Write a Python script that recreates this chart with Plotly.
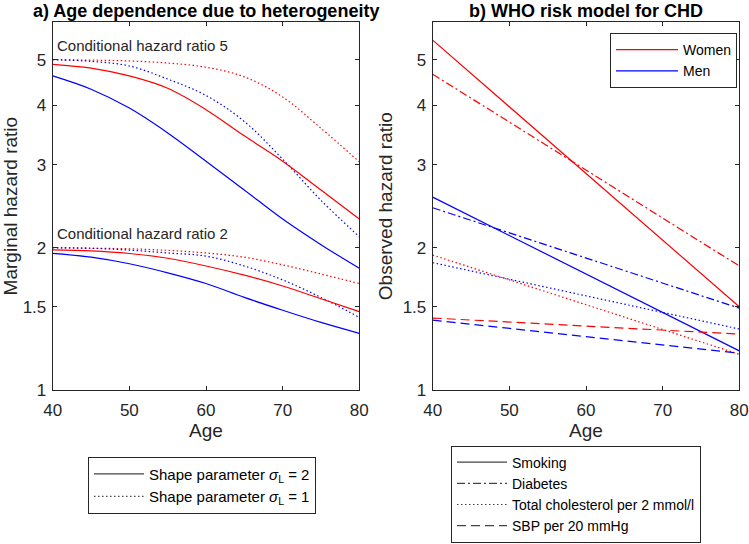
import plotly.graph_objects as go
from plotly.subplots import make_subplots

# ---------------- data ----------------
ages_a = [40, 45, 50, 55, 60, 65, 70, 75, 80]
# Conditional hazard ratio 5
hr5_women_s2 = [4.89, 4.80, 4.62, 4.35, 3.92, 3.45, 3.05, 2.65, 2.30]
hr5_men_s2 = [4.62, 4.33, 3.95, 3.50, 3.05, 2.65, 2.30, 2.03, 1.81]
hr5_women_s1 = [5.00, 4.99, 4.97, 4.92, 4.82, 4.60, 4.17, 3.58, 3.04]
hr5_men_s1 = [5.00, 4.96, 4.85, 4.55, 4.20, 3.70, 3.08, 2.52, 2.11]
# Conditional hazard ratio 2
hr2_women_s2 = [1.98, 1.97, 1.945, 1.90, 1.83, 1.75, 1.66, 1.56, 1.465]
hr2_men_s2 = [1.946, 1.91, 1.85, 1.77, 1.68, 1.57, 1.475, 1.39, 1.318]
hr2_women_s1 = [2.00, 1.995, 1.99, 1.975, 1.95, 1.91, 1.84, 1.76, 1.68]
hr2_men_s1 = [2.00, 1.995, 1.977, 1.95, 1.92, 1.83, 1.71, 1.57, 1.425]

ages_b = [40, 80]
smoking_women = [5.50, 1.50]
smoking_men = [2.56, 1.21]
diabetes_women = [4.66, 1.83]
diabetes_men = [2.43, 1.49]
chol_women = [1.93, 1.19]
chol_men = [1.86, 1.346]
sbp_women = [1.42, 1.313]
sbp_men = [1.406, 1.196]

x_ticks = [40, 50, 60, 70, 80]
y_ticks = [1, 1.5, 2, 3, 4, 5]
y_ticktext = ["1", "1.5", "2", "3", "4", "5"]

# ---------------- style ----------------
RED = "#FF0000"
BLUE = "#0000FF"
FONT = "Liberation Sans, Arial, sans-serif"
AX = "#262626"
W = 1.2
DOT = "1.5px,2.5px"
DASH = "9px,5px"
DASHDOT = "8px,3px,2px,3px"

fig = make_subplots(rows=1, cols=2)

def add(x, y, color, dash, col, shape="spline"):
    fig.add_trace(go.Scatter(x=x, y=y, mode="lines", showlegend=False,
                             line=dict(color=color, width=W, dash=dash, shape=shape)),
                  row=1, col=col)

# panel a
for ys, c, d in [(hr5_women_s1, RED, DOT), (hr5_men_s1, BLUE, DOT),
                 (hr5_women_s2, RED, "solid"), (hr5_men_s2, BLUE, "solid"),
                 (hr2_women_s1, RED, DOT), (hr2_men_s1, BLUE, DOT),
                 (hr2_women_s2, RED, "solid"), (hr2_men_s2, BLUE, "solid")]:
    add(ages_a, ys, c, d, 1)

# panel b
for ys, c, d in [(smoking_women, RED, "solid"), (smoking_men, BLUE, "solid"),
                 (diabetes_women, RED, DASHDOT), (diabetes_men, BLUE, DASHDOT),
                 (chol_women, RED, DOT), (chol_men, BLUE, DOT),
                 (sbp_women, RED, DASH), (sbp_men, BLUE, DASH)]:
    add(ages_b, ys, c, d, 2, shape="linear")

# legend entries
def leg(name, color, dash, legend):
    fig.add_trace(go.Scatter(x=[None], y=[None], mode="lines", name=name,
                             line=dict(color=color, width=W, dash=dash),
                             legend=legend, showlegend=True), row=1, col=2)

leg("Women", RED, "solid", "legend")
leg("Men", BLUE, "solid", "legend")
leg("Shape parameter <i>σ</i><sub>L</sub> = 2", "#444444", "solid", "legend2")
leg("Shape parameter <i>σ</i><sub>L</sub> = 1", "#444444", DOT, "legend2")
leg("Smoking", "#444444", "solid", "legend3")
leg("Diabetes", "#444444", DASHDOT, "legend3")
leg("Total cholesterol per 2 mmol/l", "#444444", DOT, "legend3")
leg("SBP per 20 mmHg", "#444444", DASH, "legend3")

WIDTH, HEIGHT = 749, 544
def px(x):
    return x / WIDTH
def py(y):
    return 1 - y / HEIGHT

TICKF = dict(size=17, color=AX, family=FONT)
TITLEF = dict(size=19, color=AX, family=FONT)

xa = dict(range=[40, 80], tickvals=x_ticks, ticks="inside", ticklen=4,
          showline=True, mirror="ticks", linecolor=AX, linewidth=1, tickcolor=AX,
          showgrid=False, zeroline=False, tickfont=TICKF, ticklabelstandoff=5,
          title=dict(text="Age", font=TITLEF, standoff=3),
          automargin=False)
ya = dict(type="log", range=[0, 0.77815], tickvals=y_ticks, ticktext=y_ticktext,
          ticks="inside", ticklen=4, showline=True, mirror="ticks", linecolor=AX,
          linewidth=1, tickcolor=AX, showgrid=False, zeroline=False,
          tickfont=TICKF, ticklabelstandoff=2, automargin=False)

fig.update_xaxes(**xa)
fig.update_yaxes(**ya)
fig.update_layout(
    xaxis=dict(domain=[px(52.7), px(359.3)]),
    xaxis2=dict(domain=[px(432.7), px(739.3)]),
    yaxis=dict(domain=[py(390), py(22.3)],
               title=dict(text="Marginal hazard ratio", font=TITLEF, standoff=4)),
    yaxis2=dict(domain=[py(390), py(22.3)],
                title=dict(text="Observed hazard ratio", font=TITLEF, standoff=4)),
)

legend_common = dict(bgcolor="white", bordercolor=AX, borderwidth=1,
                     font=dict(size=14, color="black", family=FONT),
                     xanchor="left", yanchor="top", tracegroupgap=0, itemwidth=50)
fig.update_layout(
    width=WIDTH, height=HEIGHT,
    margin=dict(l=0, r=0, t=0, b=0),
    paper_bgcolor="white", plot_bgcolor="white",
    font=dict(family=FONT, color="black"),
    legend=dict(legend_common, x=px(737), xanchor="right", y=py(33), itemwidth=62),
    legend2=dict(legend_common, x=px(88), y=py(456.7),
                 font=dict(size=15, color="black", family=FONT)),
    legend3=dict(legend_common, x=px(451), y=py(542.5), yanchor="bottom"),
    annotations=[
        dict(text="<b>a) Age dependence due to heterogeneity</b>", x=px(206), y=py(11),
             xref="paper", yref="paper", showarrow=False, xanchor="center", yanchor="middle",
             font=dict(size=18, color="black", family=FONT)),
        dict(text="<b>b) WHO risk model for CHD</b>", x=px(586), y=py(11),
             xref="paper", yref="paper", showarrow=False, xanchor="center", yanchor="middle",
             font=dict(size=18, color="black", family=FONT)),
        dict(text="Conditional hazard ratio 5", x=px(55), y=py(45.7),
             xref="paper", yref="paper", showarrow=False, xanchor="left", yanchor="middle",
             font=dict(size=15, color=AX, family=FONT)),
        dict(text="Conditional hazard ratio 2", x=px(55), y=py(233.3),
             xref="paper", yref="paper", showarrow=False, xanchor="left", yanchor="middle",
             font=dict(size=15, color=AX, family=FONT)),
    ],
)

fig.write_html("out.html", post_script="document.body.style.margin='0';",
               config={"displayModeBar": False})
